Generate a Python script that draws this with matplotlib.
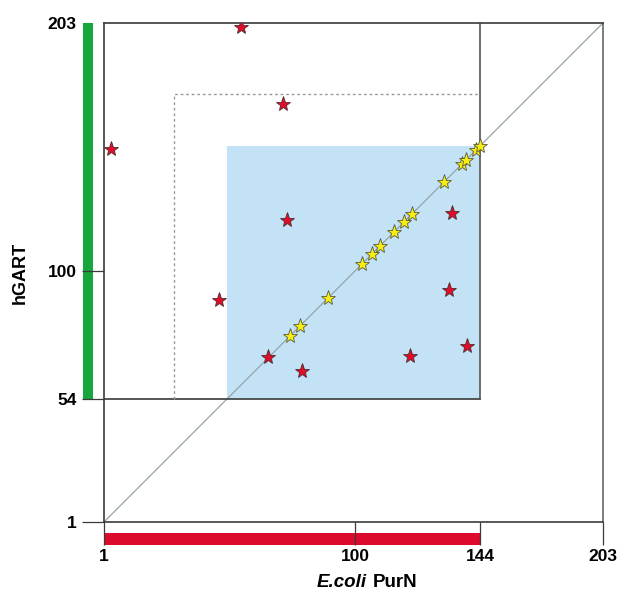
import matplotlib
matplotlib.use("Agg")
import matplotlib.pyplot as plt
import numpy as np
from matplotlib.patches import Rectangle

# residue numbering of the two proteins; the drawing is schematic, so each axis
# is piecewise linear between the labelled residues
axis_knots = [1, 54, 100, 144, 203]
axis_fracs = [0.0, 0.2465, 0.504, 0.7535, 1.0]

xticks = [1, 100, 144, 203]
yticks = [1, 54, 100, 203]

purn_span = (1, 144)     # E.coli PurN (red bar)
hgart_span = (54, 203)   # hGART (green bar)
overlap = (54, 144)      # shaded region
dotted_x = 31
dotted_y = 169

# red stars: off-diagonal contacts
red_x = [59, 74, 4, 75.5, 50.6, 68.7, 80.8, 134.1, 133.1, 139.4, 119.3]
red_y = [201, 164, 143, 118, 89.4, 69, 64, 120.3, 93, 73, 69.4]

# yellow stars: equivalent residues on the diagonal
yellow_x = [76.5, 80, 90, 102.3, 105.8, 108.7, 113.6, 117.1, 120, 131.3, 137.6, 139.1, 142.6, 144]
yellow_y = [76.5, 80, 90, 102.3, 105.8, 108.7, 113.6, 117.1, 120, 131.3, 137.6, 139.1, 142.6, 144]

# extend the mapping linearly past the ends
lo_slope = (axis_fracs[1] - axis_fracs[0]) / (axis_knots[1] - axis_knots[0])
hi_slope = (axis_fracs[-1] - axis_fracs[-2]) / (axis_knots[-1] - axis_knots[-2])
kk = np.r_[-1000, axis_knots, 1200]
ff = np.r_[-1001 * lo_slope, axis_fracs, 1 + 997 * hi_slope]


def fwd(v):
    return np.interp(np.asarray(v, dtype=float), kk, ff)


def inv(f):
    return np.interp(np.asarray(f, dtype=float), ff, kk)


plt.rcParams['font.family'] = ['Liberation Sans', 'DejaVu Sans']

fig = plt.figure(figsize=(6.19, 5.90), dpi=100)
ax = fig.add_axes([104 / 619, 68 / 590, 499 / 619, 499 / 590])
ax.set_xscale('function', functions=(fwd, inv))
ax.set_yscale('function', functions=(fwd, inv))
ax.set_xlim(1, 203)
ax.set_ylim(1, 203)

dark = '#3a3a3a'
# shaded overlap
ax.add_patch(Rectangle((overlap[0], overlap[0]), overlap[1] - overlap[0], overlap[1] - overlap[0],
                       facecolor='#c4e2f6', edgecolor='none', zorder=1))
# diagonal
ax.plot([1, 203], [1, 203], color='#8a9aa0', lw=0.8, zorder=2)
# hGART x PurN frame
ax.plot([purn_span[0], purn_span[1]], [hgart_span[0], hgart_span[0]], color=dark, lw=1.2, zorder=2)
ax.plot([purn_span[1], purn_span[1]], [hgart_span[0], hgart_span[1]], color='#555555', lw=1.2, zorder=2)
# dotted frame
ax.plot([dotted_x, dotted_x, purn_span[1]], [hgart_span[0], dotted_y, dotted_y],
        color='#9a9a9a', lw=1.0, ls=(0, (2, 2)), zorder=2)

ax.plot(red_x, red_y, ls='none', marker='*', ms=11, mfc='#e30b2a', mec='#4a3030', mew=0.6, zorder=4)
ax.plot(yellow_x, yellow_y, ls='none', marker='*', ms=11, mfc='#f6ee10', mec='#5a5a40', mew=0.6, zorder=4)

# sequence bars outside the square
ax.add_patch(Rectangle((purn_span[0], -0.046), purn_span[1] - purn_span[0], 0.024,
                       transform=ax.get_xaxis_transform(), facecolor='#dc0a2c',
                       edgecolor='none', clip_on=False, zorder=1))
ax.add_patch(Rectangle((-0.042, hgart_span[0]), 0.020, hgart_span[1] - hgart_span[0],
                       transform=ax.get_yaxis_transform(), facecolor='#16a63c',
                       edgecolor='none', clip_on=False, zorder=1))

for side, sp in ax.spines.items():
    sp.set_linewidth(1.2)
    sp.set_color(dark)
ax.spines['right'].set_color('#666666')

ax.set_xticks(xticks)
ax.set_yticks(yticks)
ax.set_xticklabels([str(t) for t in xticks])
ax.set_yticklabels([str(t) for t in yticks])
ax.minorticks_off()
ax.tick_params(axis='both', direction='out', length=16.5, width=0.9, color=dark,
               labelsize=12.5, pad=3)
ax.tick_params(axis='y', length=15.8, pad=4)
for lab in ax.get_xticklabels() + ax.get_yticklabels():
    lab.set_fontweight('bold')
ax.yaxis.get_major_ticks()[-1].tick1line.set_visible(False)

# x label: italic species name followed by the protein name
ax.text(0.527, -0.121, 'E.coli', transform=ax.transAxes, ha='right', va='center',
        fontsize=13.5, fontweight='bold', fontstyle='italic')
ax.text(0.539, -0.121, 'PurN', transform=ax.transAxes, ha='left', va='center',
        fontsize=13.5, fontweight='bold')
ax.set_ylabel('hGART', fontsize=13, fontweight='bold')
ax.yaxis.set_label_coords(-0.168, 0.5)
ax.yaxis.label.set_va('center')

fig.savefig('out.png', dpi=100)
